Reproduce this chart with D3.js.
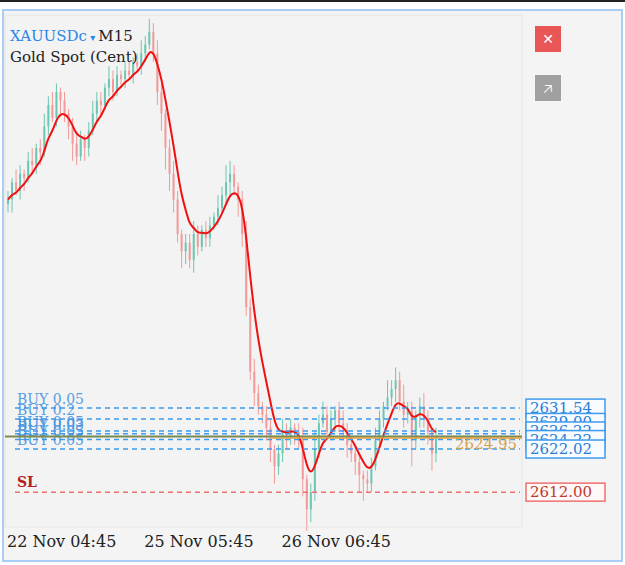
<!DOCTYPE html>
<html><head><meta charset="utf-8">
<script src="https://cdn.jsdelivr.net/npm/d3@7"></script>
<style>body{margin:0;background:#fff}</style></head>
<body><svg id="c" width="625" height="565"></svg>
<script>
const closes=[2680,2684,2682,2686,2685,2689,2688,2692,2691,2697,
2702,2699,2705,2703,2700,2697,2693,2690,2694,2692,
2696,2700,2703,2702,2706,2708,2705,2709,2708,2710,
2709,2712,2711,2714,2716,2719,2714,2705,2700,2692,
2686,2680,2672,2668,2670,2666,2672,2669,2673,2671,
2674,2676,2678,2681,2684,2686,2683,2680,2672,2655,
2640,2635,2632,2630,2627,2622,2618,2621,2626,2625,
2627,2626,2624,2615,2608,2612,2622,2628,2630,2626,
2629,2631,2628,2626,2623,2621,2619,2616,2615,2614,
2618,2624,2629,2632,2634,2636,2638,2633,2630,2631,
2624,2630,2632,2629,2626,2621,2624.95];
const wickUp=[2,1,3,2,1,2,3,1,2,3, 2,3,2,1,2,1,2,3,2,1, 2,3,2,2,1,3,2,2,1,2, 2,1,2,3,2,3,2,3,2,1, 2,3,2,1,2,2,3,2,1,2, 2,1,3,2,4,3,2,1,2,3, 2,3,2,1,2,2,1,2,3,2, 2,1,2,3,1,2,4,2,3,2, 2,1,2,3,2,1,2,2,1,2, 2,3,2,1,4,2,3,2,4,2, 2,1,2,3,2,1,2];
const wickDn=[2,3,1,2,3,1,2,2,3,1, 2,1,2,3,2,3,4,2,1,3, 2,1,2,3,1,2,2,1,2,2, 1,2,1,2,2,1,2,3,4,5, 4,3,2,4,3,2,3,2,1,2, 2,1,2,1,2,3,2,4,3,2, 2,3,2,2,3,3,4,2,2,3, 2,3,2,4,5,3,2,2,1,2, 2,3,2,2,3,2,3,4,5,2, 2,1,2,2,1,2,3,2,3,2, 6,2,3,2,3,4,2];
const orderPrices=[2631.54,2629.0,2626.22,2625.6,2624.22,2622.02];
const orderLots=["0.05","0.2","0.05","0.03","0.05","0.05"];
const boxLabels=["2631.54","2629.00","2626.22","2624.22","2622.02"];
const boxPrices=[2631.54,2628.2,2626.22,2624.22,2622.02];
const slPrice=2612.00, lastPrice=2624.95;
const timeLabels=["22 Nov 04:45","25 Nov 05:45","26 Nov 06:45"];
const timeIdx=[0,34,68];

const svg=d3.select("#c");
const F="DejaVu Serif";
svg.append("rect").attr("width",625).attr("height",565).attr("fill","#fff");
svg.append("rect").attr("x",0).attr("y",0).attr("width",625).attr("height",2).attr("fill","#222");
svg.append("rect").attr("x",3).attr("y",10).attr("width",619).attr("height",551).attr("fill","#f4f4f4").attr("stroke","#a9cdf5").attr("stroke-width",2);
svg.append("rect").attr("x",5).attr("y",15).attr("width",517).attr("height",512).attr("fill","#f3f3f3").attr("stroke","#e6e6e6");
const y=d3.scaleLinear().domain([2603.9,2722.9]).range([527,15]);
const x=d3.scaleLinear().domain([0,106]).range([8,436]);
const g=svg.append("g");
// candles
closes.forEach((c,i)=>{
  const o=i?closes[i-1]:c-1;
  const hi=Math.max(o,c)+wickUp[i], lo=Math.min(o,c)-wickDn[i];
  const col=c>=o?"#6cc7b2":"#f29a9a";
  g.append("line").attr("x1",x(i)).attr("x2",x(i)).attr("y1",y(hi)).attr("y2",y(lo)).attr("stroke",col).attr("stroke-width",1);
  g.append("rect").attr("x",x(i)-1).attr("width",2).attr("y",y(Math.max(o,c))).attr("height",Math.max(1,Math.abs(y(o)-y(c)))).attr("fill",col);
});
// MA
const ma=[];let e=closes[0];closes.forEach((c,i)=>{e=e+(c-e)*0.3;ma.push(e);});
g.append("path").attr("d",d3.line().x((d,i)=>x(i)).y(d=>y(d)).curve(d3.curveBasis)(ma)).attr("fill","none").attr("stroke","#f01010").attr("stroke-width",2);
// order lines
orderPrices.forEach((p,i)=>{
  g.append("line").attr("x1",15).attr("x2",520).attr("y1",y(p)).attr("y2",y(p)).attr("stroke","#3d9bf0").attr("stroke-width",1.5).attr("stroke-dasharray","5,4");
  g.append("text").attr("x",17).attr("y",y(p)-4).text("BUY "+orderLots[i]).attr("font-family",F).attr("font-size",14).attr("fill","#3d8fe0").attr("opacity",0.85);
});
g.append("line").attr("x1",5).attr("x2",522).attr("y1",y(lastPrice)).attr("y2",y(lastPrice)).attr("stroke","#7a8a50").attr("stroke-width",2);
g.append("line").attr("x1",270).attr("x2",522).attr("y1",y(lastPrice)+1.5).attr("y2",y(lastPrice)+1.5).attr("stroke","#e0a040").attr("stroke-width",1.5);
g.append("text").attr("x",455).attr("y",y(lastPrice)+13).text(lastPrice.toFixed(2)).attr("font-family",F).attr("font-size",15).attr("fill","#d9a24a");
// SL
g.append("line").attr("x1",15).attr("x2",520).attr("y1",y(slPrice)).attr("y2",y(slPrice)).attr("stroke","#f07070").attr("stroke-width",1.5).attr("stroke-dasharray","5,4");
g.append("text").attr("x",17).attr("y",y(slPrice)-5).text("SL").attr("font-family",F).attr("font-weight","bold").attr("font-size",14).attr("fill","#b22222");
// boxes
boxPrices.forEach((p,i)=>{
  const b=svg.append("g").attr("transform",`translate(526,${y(p)-9})`);
  b.append("rect").attr("width",79).attr("height",18).attr("fill","#f8fbff").attr("stroke","#3d9bf0").attr("stroke-width",1.5);
  b.append("text").attr("x",4).attr("y",14).text(boxLabels[i]).attr("font-family",F).attr("font-size",15).attr("fill","#2a7fd4");
});
const sb=svg.append("g").attr("transform",`translate(526,${y(slPrice)-9})`);
sb.append("rect").attr("width",79).attr("height",18).attr("fill","#fff8f8").attr("stroke","#f07070").attr("stroke-width",1.5);
sb.append("text").attr("x",4).attr("y",14).text(slPrice.toFixed(2)).attr("font-family",F).attr("font-size",15).attr("fill","#c0392b");
// title
const t=svg.append("text").attr("x",10).attr("y",41).attr("font-family",F).attr("font-size",15);
t.append("tspan").text("XAUUSDc").attr("fill","#2a86e8");
t.append("tspan").text(" ▾ ").attr("fill","#2a86e8").attr("font-size",10);
t.append("tspan").text("M15").attr("fill","#222");
svg.append("text").attr("x",10).attr("y",62).text("Gold Spot (Cent)").attr("font-family",F).attr("font-size",15).attr("fill","#222");
// buttons
svg.append("rect").attr("x",535).attr("y",26).attr("width",26).attr("height",26).attr("fill","#e95656");
svg.append("text").attr("x",548).attr("y",44).attr("text-anchor","middle").text("✕").attr("fill","#fff").attr("font-size",14).attr("font-weight","bold").attr("font-family","DejaVu Sans");
svg.append("rect").attr("x",535).attr("y",75).attr("width",26).attr("height",26).attr("fill","#a0a0a0");
svg.append("text").attr("x",548).attr("y",94).attr("text-anchor","middle").text("🡥").attr("fill","#fff").attr("font-size",15).attr("font-family","DejaVu Sans");
// time axis
timeLabels.forEach((l,i)=>{
  svg.append("text").attr("x",x(timeIdx[i])-1).attr("y",547).text(l).attr("font-family",F).attr("font-size",16).attr("fill","#222");
});
</script></body></html>
